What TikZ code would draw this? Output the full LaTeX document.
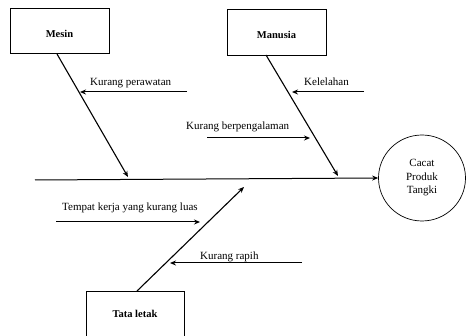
\documentclass[tikz,border=0pt]{standalone}
\usepackage{fontspec}
\setmainfont{Liberation Serif}
\usetikzlibrary{arrows.meta,shapes.geometric}
\begin{document}
\begin{tikzpicture}[x=1pt,y=-1pt,
  cbox/.style={draw, line width=0.8pt, inner sep=0pt, font=\fontsize{10.5}{12}\selectfont\bfseries, text height=14pt, text depth=0pt},
  bone/.style={line width=1.1pt, -{Stealth[length=6pt,width=5pt]}},
  sub/.style={line width=1pt, -{Stealth[length=6pt,width=5pt]}},
  lbl/.style={font=\fontsize{11}{12}\selectfont, inner sep=0pt, anchor=base west}]
\clip (0,0) rectangle (466,336);
% category boxes
\node[cbox, minimum width=99pt, minimum height=45pt] (mesin) at (59.5,31) {Mesin};
\node[cbox, minimum width=99pt, minimum height=46pt] (manusia) at (276.5,32) {Manusia};
\node[cbox, minimum width=98pt, minimum height=47pt, text height=7pt] (tata) at (135,314.5) {Tata letak};
% effect
\node[draw, ellipse, line width=0.7pt, minimum width=87pt, minimum height=86pt, inner sep=0pt,
      align=center, font=\fontsize{11}{13.5}\selectfont] (eff) at (422,178) {Cacat\\Produk\\Tangki};
% spine
\coordinate (tail) at (35,180);
\draw[sub] (tail) -- (eff.west);
% bones
\coordinate (m1) at (57,54);
\coordinate (m2) at (128,177);
\coordinate (h1) at (266,55);
\coordinate (h2) at (338,176);
\coordinate (t1) at (137,291);
\coordinate (t2) at (244,187);
\draw[bone] (m1) -- (m2);
\draw[bone] (h1) -- (h2);
\draw[bone] (t1) -- (t2);
% sub causes
\coordinate (a1) at (187,92);  \coordinate (a2) at (80,92);
\coordinate (b1) at (364,92);  \coordinate (b2) at (292,92);
\coordinate (c1) at (207,138); \coordinate (c2) at (310,138);
\coordinate (d1) at (56,222);  \coordinate (d2) at (200,222);
\coordinate (e1) at (302,263); \coordinate (e2) at (170,263);
\draw[sub] (a1) -- (a2);
\draw[sub] (b1) -- (b2);
\draw[sub] (c1) -- (c2);
\draw[sub] (d1) -- (d2);
\draw[sub] (e1) -- (e2);
% labels
\node[lbl] (la) at (90,86) {Kurang perawatan};
\node[lbl] (lb) at (304,86) {Kelelahan};
\node[lbl] (lc) at (186,130) {Kurang berpengalaman};
\node[lbl] (ld) at (62,211) {Tempat kerja yang kurang luas};
\node[lbl] (le) at (200,260) {Kurang rapih};
\end{tikzpicture}
\end{document}
